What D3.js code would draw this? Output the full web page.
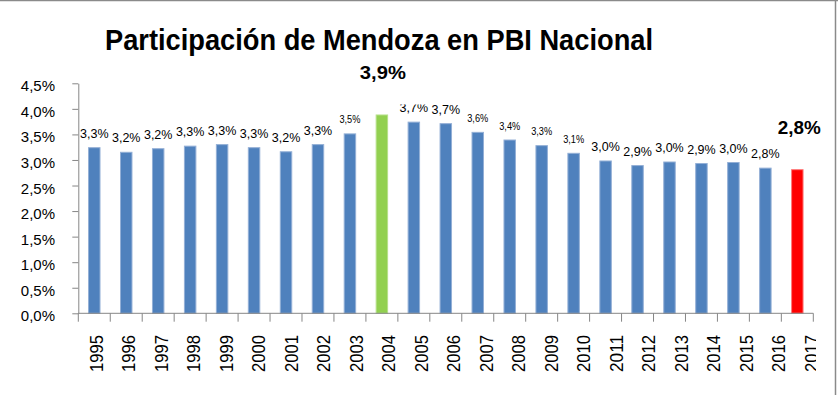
<!DOCTYPE html>
<html><head><meta charset="utf-8">
<script src="https://cdn.jsdelivr.net/npm/d3@7"></script>
<style>
body{margin:0;background:#fff;}
text{font-family:"Liberation Sans",Arial,sans-serif;}
</style>
</head><body>
<svg id="c" width="838" height="395"></svg>
<script>
// ---- data ----
const title = "Participación de Mendoza en PBI Nacional";
const years = ["1995","1996","1997","1998","1999","2000","2001","2002","2003","2004","2005","2006",
               "2007","2008","2009","2010","2011","2012","2013","2014","2015","2016","2017"];
const values = [3.25,3.16,3.23,3.28,3.31,3.25,3.17,3.31,3.52,3.89,3.75,3.72,
                3.55,3.40,3.29,3.14,2.99,2.90,2.97,2.94,2.96,2.85,2.82];
const valueLabels = ["3,3%","3,2%","3,2%","3,3%","3,3%","3,3%","3,2%","3,3%","3,5%","3,9%","3,7%","3,7%",
                     "3,6%","3,4%","3,3%","3,1%","3,0%","2,9%","3,0%","2,9%","3,0%","2,8%","2,8%"];
const yTicks = [0,0.5,1.0,1.5,2.0,2.5,3.0,3.5,4.0,4.5];
const yTickLabels = ["0,0%","0,5%","1,0%","1,5%","2,0%","2,5%","3,0%","3,5%","4,0%","4,5%"];
const greenYear = "2004";
const redYear = "2017";

// ---- drawing ----
const svg = d3.select("#c");
const W = 838, H = 395;
const L = 78.3, R = 813.3, T = 83.3, B = 313.3;
const condensed = new Set(["2003","2007","2008","2009","2010"]);
const data = years.map((y,i)=>({year:y, v:values[i], label:valueLabels[i]}));

const pIn = 0.61;
const x = d3.scaleBand().domain(years).range([L,R]).paddingInner(pIn).paddingOuter(pIn/2);
const step = x.step(), bw = x.bandwidth();
const y = d3.scaleLinear().domain([0,4.5]).range([B,T]);
const xl = d3.scalePoint().domain(years).range([96.3, 811]);

svg.append("defs").append("clipPath").attr("id","clipR")
  .append("rect").attr("x",0).attr("y",0).attr("width",816).attr("height",H);

// border
svg.append("line").attr("x1",0).attr("x2",W).attr("y1",0.5).attr("y2",0.5).attr("stroke","#8a8a8a").attr("stroke-width",1.5);
svg.append("line").attr("x1",835.5).attr("x2",835.5).attr("y1",0).attr("y2",H).attr("stroke","#8a8a8a").attr("stroke-width",1.5);

// title
svg.append("text").attr("x",379).attr("y",50).attr("text-anchor","middle")
  .attr("font-size",30).attr("font-weight","bold").attr("fill","#000")
  .attr("textLength",548).attr("lengthAdjust","spacingAndGlyphs").text(title);

// y axis
const yAxis = d3.axisLeft(y).tickValues(yTicks).tickSize(6).tickSizeOuter(0).tickPadding(17.3)
  .tickFormat((d,i)=>yTickLabels[i]);
const gy = svg.append("g").attr("transform",`translate(${L},0)`).call(yAxis);
gy.select(".domain").attr("stroke","#868686");
gy.selectAll(".tick line").attr("stroke","#868686");
gy.selectAll(".tick text").attr("font-size",15).attr("fill","#000").attr("dy","0.5em")
  .attr("font-family","'Liberation Sans',Arial,sans-serif");

// bars
const col = d => d.year===greenYear ? "#92D050" : d.year===redYear ? "#FF0000" : "#4F81BD";
const edge = d => d.year===greenYear ? "#B6E08A" : d.year===redYear ? "#FF7A7A" : "#93AFD6";
svg.append("g").selectAll("rect").data(data).join("rect")
  .attr("x",d=>x(d.year)+0.5).attr("width",bw-1)
  .attr("y",d=>y(d.v)+0.5).attr("height",d=>B-y(d.v)-0.5)
  .attr("fill",col).attr("stroke",edge).attr("stroke-width",1);

// x axis
const gx = svg.append("g");
gx.append("line").attr("x1",L).attr("x2",R).attr("y1",B).attr("y2",B).attr("stroke","#868686");
const bounds = years.map(d=>x(d)-step*pIn/2).concat([R]);
gx.selectAll("line.t").data(bounds).join("line").attr("class","t")
  .attr("x1",d=>d).attr("x2",d=>d).attr("y1",B).attr("y2",B+8.4).attr("stroke","#868686");
gx.append("g").attr("clip-path","url(#clipR)").selectAll("text").data(years).join("text")
  .attr("transform",d=>`translate(${xl(d)},335) rotate(-90)`)
  .attr("text-anchor","end").attr("dy","0.35em")
  .attr("font-size",19).attr("fill","#000")
  .attr("textLength",37).attr("lengthAdjust","spacingAndGlyphs").text(d=>d);

// value labels
const lab = svg.append("g");
data.filter(d=>d.year!==greenYear && d.year!==redYear).forEach(d=>{
  const t = lab.append("text").attr("x",x(d.year)+bw/2).attr("text-anchor","middle")
    .attr("fill","#000").text(d.label);
  if (condensed.has(d.year)) {
    t.attr("y",y(d.v)-10).attr("font-size",11).attr("textLength",21).attr("lengthAdjust","spacingAndGlyphs");
  } else {
    t.attr("y",y(d.v)-9.5).attr("font-size",12.5);
  }
});

// highlighted labels
data.filter(d=>d.year===greenYear || d.year===redYear).forEach(d=>{
  const cx = x(d.year)+bw/2 + (d.year===redYear ? 2 : 1);
  const by = y(d.v)-35;
  if (d.year===greenYear) {
    lab.append("rect").attr("x",cx-40).attr("y",by-22).attr("width",125).attr("height",47)
      .attr("fill","#fff");
  }
  lab.append("text").attr("x",cx).attr("y",by).attr("text-anchor","middle")
    .attr("font-size",17.5).attr("font-weight","bold").attr("fill","#000")
    .attr("textLength",d.year===greenYear?46:43).attr("lengthAdjust","spacingAndGlyphs")
    .text(d.label);
});
</script>
</body></html>
